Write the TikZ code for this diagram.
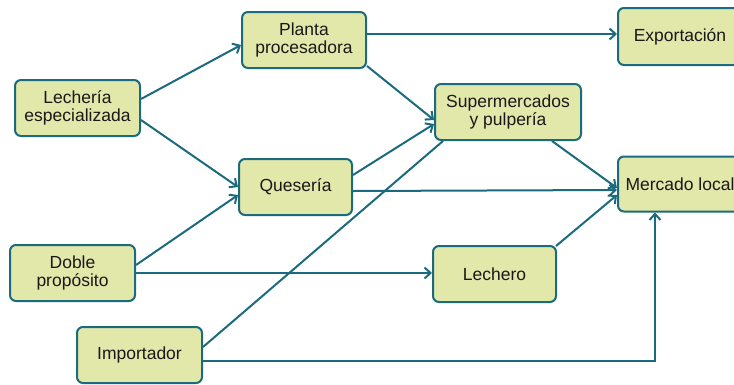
\documentclass[tikz,border=0pt]{standalone}
\usepackage{fontspec}
\setmainfont{Liberation Sans}
\usetikzlibrary{arrows.meta}
\definecolor{boxfill}{HTML}{E2E7AA}
\definecolor{teal}{HTML}{1B6A7E}
\begin{document}
\begin{tikzpicture}[x=1pt,y=-1pt,
  box/.style={draw=teal, fill=boxfill, line width=2pt, rounded corners=6pt,
    align=center, inner sep=0pt, font=\fontsize{17.5}{18.5}\selectfont, text=black!90},
  conn/.style={draw=teal, line width=2pt, -{Straight Barb[length=6pt,width=11pt]}},
  plain/.style={draw=teal, line width=2pt}]
\useasboundingbox (0,0) rectangle (734,384);
\node[box, minimum width=125pt, minimum height=56pt] (lech) at (77.5,108) {Lechería\\especializada};
\node[box, minimum width=124pt, minimum height=56pt] (planta) at (304,40) {Planta\\procesadora};
\node[box, minimum width=113pt, minimum height=56pt] (ques) at (295.5,187) {Quesería};
\node[box, minimum width=146pt, minimum height=56pt] (super) at (508,112) {Supermercados\\y pulpería};
\node[box, minimum width=124pt, minimum height=57pt] (export) at (680,36.5) {Exportación};
\node[box, minimum width=124pt, minimum height=55pt] (merc) at (680,184) {Mercado local};
\node[box, minimum width=125pt, minimum height=56pt] (doble) at (72.5,273) {Doble\\propósito};
\node[box, minimum width=123pt, minimum height=56pt] (lechero) at (494.5,274) {Lechero};
\node[box, minimum width=125pt, minimum height=56pt] (imp) at (139.5,355) {Importador};

\draw[conn] ([yshift=9pt]lech.east) -- ([yshift=-5pt]planta.west);
\draw[conn] ([yshift=-12pt]lech.east) -- (ques.west);
\draw[conn] ([yshift=6pt]planta.east) -- ([yshift=6pt]planta.east -| export.west);
\draw[conn] ([yshift=3pt]planta.south east) -- ([yshift=-8pt]super.west);
\draw[conn] ([yshift=12pt]ques.east) -- ([yshift=-12pt]super.west);
\draw[conn] ([yshift=-4pt]ques.east) -- ([yshift=-6pt]merc.west);
\draw[conn] ([xshift=44pt]super.south) -- ([yshift=-4pt]merc.west);
\draw[conn] ([yshift=8pt]doble.east) -- ([yshift=-8pt]ques.west);
\draw[conn] (doble.east) -- (doble.east -| lechero.west);
\draw[plain] ([yshift=8pt]imp.east) -- ([xshift=-65pt]super.south);
\draw[conn] ([xshift=-1pt,yshift=-1pt]lechero.north east) -- ([yshift=-11pt]merc.west);
\draw[conn] ([yshift=-6pt]imp.east) -| ([xshift=-25pt]merc.south);
\end{tikzpicture}
\end{document}
